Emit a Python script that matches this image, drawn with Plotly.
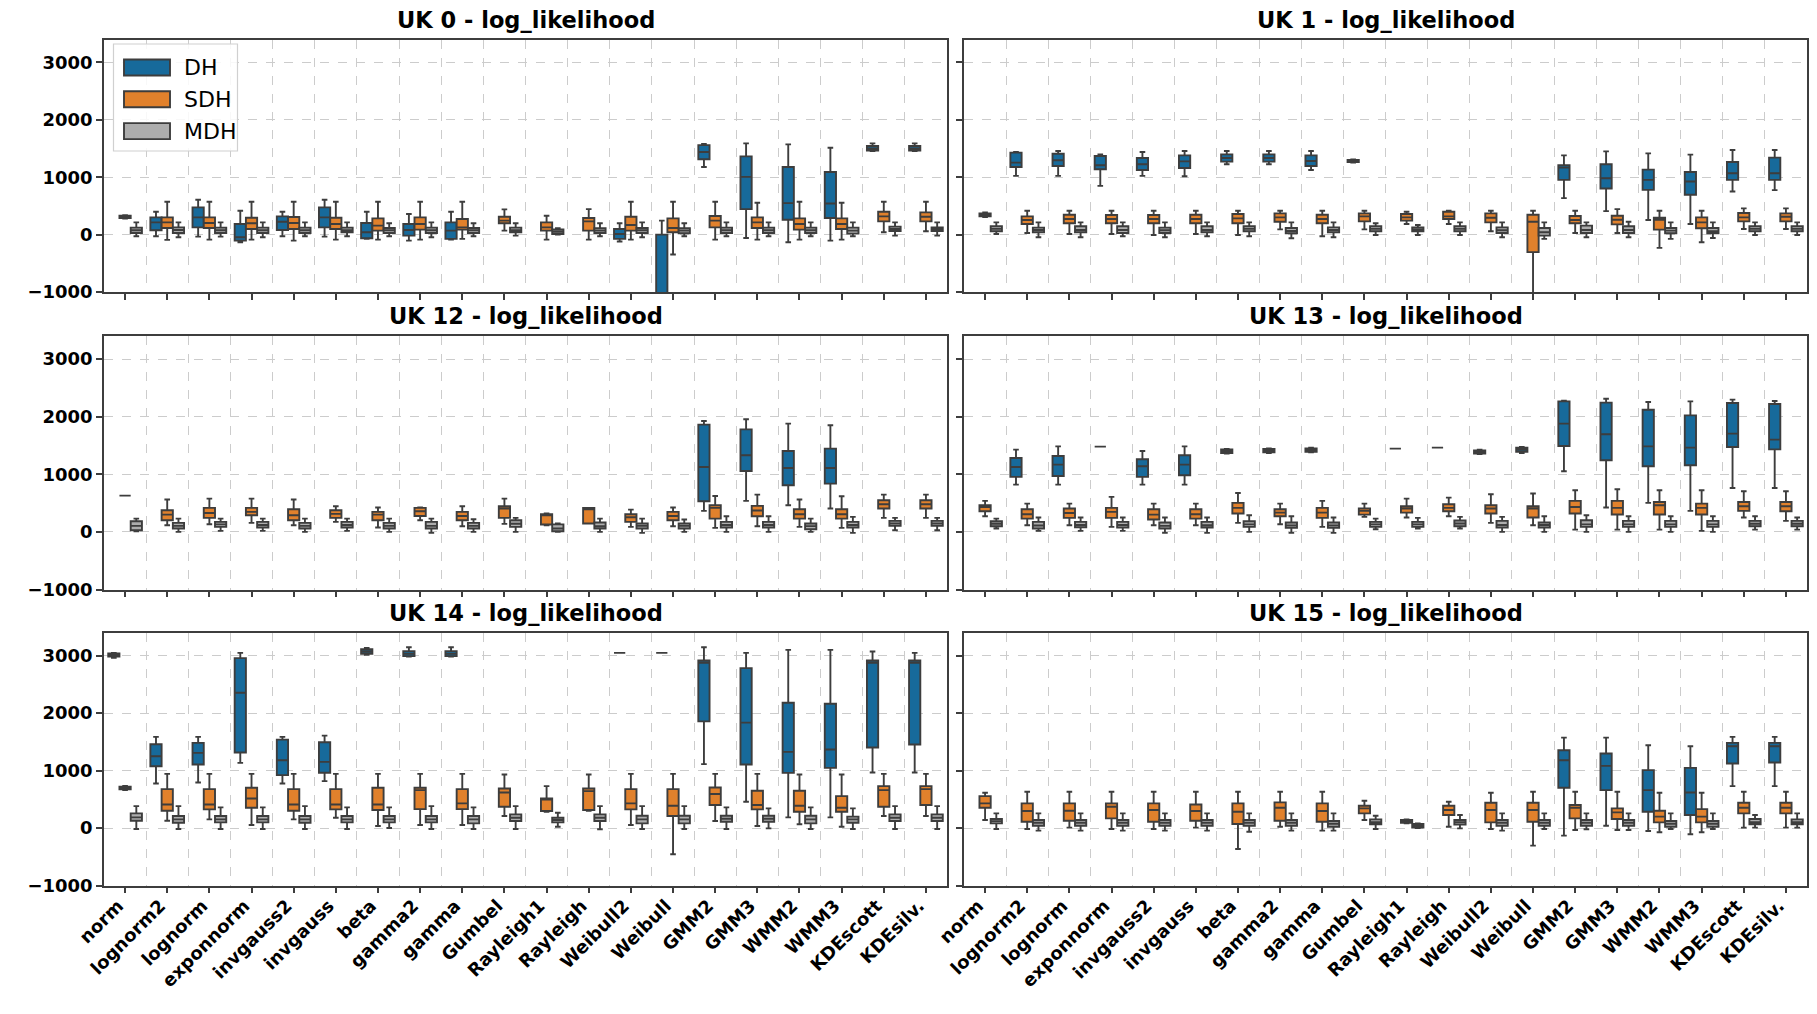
import plotly.graph_objects as go
from plotly.subplots import make_subplots

CATEGORIES = ["norm", "lognorm2", "lognorm", "exponnorm", "invgauss2", "invgauss", "beta",
              "gamma2", "gamma", "Gumbel", "Rayleigh1", "Rayleigh", "Weibull2", "Weibull",
              "GMM2", "GMM3", "WMM2", "WMM3", "KDEscott", "KDEsilv."]
SERIES = ["DH", "SDH", "MDH"]
PANEL_TITLES = ["UK 0 - log_likelihood", "UK 1 - log_likelihood",
                "UK 12 - log_likelihood", "UK 13 - log_likelihood",
                "UK 14 - log_likelihood", "UK 15 - log_likelihood"]
Y_TICKS = [-1000, 0, 1000, 2000, 3000]

# each entry: (lower whisker, Q1, median, Q3, upper whisker); None = no box
UK0_DH = [None, (-29, 75, 214, 300, 399), (-35, 127, 300, 474, 607), (-133, -104, -46, 185, 416),
          (-29, 81, 225, 318, 399), (-35, 127, 300, 474, 607), (-75, -64, 40, 202, 399),
          (-104, -17, 81, 185, 358), (-87, -75, 69, 214, 399), None, None, None,
          (-121, -75, 12, 98, 197), (-4000, -2500, -1500, 0, 243), (1179, 1312, 1439, 1560, 1580),
          (-58, 445, 1006, 1364, 1590), (-133, 260, 549, 1179, 1572), (-104, 289, 543, 1092, 1514),
          (1457, 1465, 1500, 1543, 1590), (1457, 1465, 1500, 1543, 1590)]
UK0_SDH = [(280, 290, 310, 330, 340), (-92, 116, 214, 300, 572), (-87, 116, 202, 300, 572),
           (-87, 98, 197, 295, 572), (-104, 98, 202, 306, 572), (-87, 98, 185, 295, 572),
           (-87, 69, 156, 283, 572), (-87, 87, 185, 300, 572), (-75, 87, 127, 272, 572),
           (69, 197, 243, 312, 439), (-87, 69, 127, 214, 330), (-87, 69, 231, 289, 445),
           (-87, 69, 168, 312, 572), (-347, 40, 116, 283, 572), (-87, 127, 243, 324, 572),
           (-87, 116, 214, 300, 555), (-87, 87, 185, 283, 572), (-87, 98, 185, 283, 555),
           (40, 231, 318, 399, 572), (58, 231, 312, 387, 572)]
UK0_MDH = [(-29, 29, 75, 121, 214), (-46, 29, 81, 127, 214), (-35, 29, 75, 121, 214),
           (-46, 29, 75, 121, 214), (-29, 29, 75, 121, 214), (-29, 40, 75, 121, 214),
           (-29, 29, 75, 116, 197), (-46, 29, 75, 121, 214), (-29, 29, 75, 116, 197),
           (-17, 40, 75, 121, 197), (0, 10, 50, 90, 110), (-29, 29, 69, 110, 197),
           (-46, 29, 75, 116, 214), (-29, 23, 69, 110, 197), (-29, 29, 75, 121, 214),
           (-29, 29, 75, 121, 214), (-29, 29, 75, 121, 214), (-29, 17, 69, 121, 214),
           (-17, 64, 98, 139, 214), (-17, 64, 98, 127, 214)]

UK1_DH = [None, (1023, 1179, 1254, 1428, 1439), (1023, 1196, 1295, 1410, 1457),
          (850, 1139, 1208, 1370, 1399), (1023, 1127, 1225, 1335, 1439),
          (1017, 1162, 1277, 1381, 1457), (1225, 1272, 1335, 1399, 1457),
          (1225, 1272, 1335, 1399, 1457), (1127, 1196, 1283, 1381, 1457),
          (1255, 1265, 1285, 1300, 1310), None, None, None, None,
          (636, 954, 1168, 1208, 1381), (410, 803, 983, 1225, 1451), (254, 780, 954, 1133, 1416),
          (185, 694, 925, 1092, 1393), (751, 954, 1069, 1266, 1474), (775, 954, 1069, 1341, 1474)]
UK1_SDH = [(305, 320, 345, 370, 385), (29, 185, 254, 318, 416), (12, 197, 272, 347, 416),
           (12, 197, 272, 341, 416), (-6, 197, 272, 341, 416), (12, 197, 272, 347, 416),
           (-6, 197, 283, 358, 416), (92, 225, 300, 370, 416), (-29, 197, 272, 347, 416),
           (92, 231, 318, 370, 416), (185, 243, 300, 358, 399), (185, 272, 318, 399, 416),
           (58, 214, 295, 370, 416), (-1500, -306, 225, 347, 416), (29, 197, 254, 324, 416),
           (29, 179, 260, 330, 445), (-231, 87, 260, 295, 416), (-133, 110, 214, 300, 416),
           (98, 231, 300, 376, 457), (98, 231, 312, 370, 457)]
UK1_MDH = [(12, 58, 100, 145, 214), (-46, 40, 81, 121, 214), (-46, 40, 81, 145, 214),
           (-29, 29, 81, 145, 214), (-46, 29, 75, 121, 214), (-29, 40, 81, 145, 214),
           (-29, 58, 100, 145, 214), (-64, 23, 64, 116, 214), (-46, 40, 81, 127, 214),
           (-6, 58, 100, 145, 197), (-6, 58, 92, 127, 168), (-6, 58, 100, 145, 214),
           (-46, 29, 75, 127, 214), (-75, -17, 40, 116, 214), (-46, 29, 81, 156, 214),
           (-46, 29, 81, 145, 225), (-75, 23, 69, 116, 214), (-58, 23, 58, 116, 214),
           (-6, 58, 100, 145, 214), (-6, 58, 100, 145, 214)]

UK12_DH = [None] * 14 + [(364, 532, 1127, 1861, 1925), (538, 1058, 1329, 1780, 1954),
                         (462, 809, 1110, 1405, 1879), (405, 838, 1110, 1445, 1850), None, None]
UK12_SDH = [(630, 630, 630, 630, 630), (116, 202, 300, 376, 561), (133, 243, 329, 416, 578),
            (156, 289, 347, 416, 578), (116, 202, 289, 393, 561), (173, 243, 312, 376, 445),
            (75, 202, 300, 347, 422), (202, 277, 358, 416, 422), (98, 202, 277, 347, 445),
            (139, 243, 405, 445, 578), (116, 127, 289, 306, 318), (145, 145, 393, 416, 416),
            (87, 173, 254, 306, 387), (98, 202, 277, 347, 422), (69, 231, 416, 462, 624),
            (98, 272, 370, 451, 647), (87, 231, 306, 393, 561), (69, 231, 306, 393, 618),
            (243, 405, 480, 549, 647), (243, 405, 480, 549, 647)]
UK12_MDH = [(12, 29, 104, 185, 231), (0, 58, 104, 156, 231), (17, 87, 130, 173, 231),
            (17, 75, 120, 173, 231), (0, 58, 104, 156, 231), (17, 75, 120, 173, 231),
            (0, 58, 104, 156, 231), (-17, 58, 104, 173, 231), (0, 58, 104, 156, 220),
            (0, 87, 140, 202, 243), (0, 10, 60, 130, 145), (0, 58, 98, 162, 231),
            (-17, 58, 104, 145, 231), (0, 58, 104, 145, 214), (0, 75, 120, 173, 272),
            (0, 75, 120, 173, 272), (0, 47, 100, 145, 231), (-17, 75, 120, 173, 260),
            (29, 104, 145, 191, 243), (29, 104, 145, 191, 243)]

UK13_DH = [None, (821, 954, 1127, 1283, 1428), (821, 971, 1168, 1318, 1485),
           (1480, 1480, 1480, 1480, 1480), (821, 954, 1139, 1260, 1405),
           (821, 983, 1168, 1329, 1485), (1360, 1370, 1400, 1430, 1440),
           (1370, 1380, 1410, 1440, 1450), (1380, 1390, 1420, 1450, 1460), None,
           (1445, 1445, 1445, 1445, 1445), (1462, 1462, 1462, 1462, 1462),
           (1350, 1360, 1387, 1415, 1425), (1370, 1390, 1428, 1460, 1475),
           (1052, 1491, 1879, 2266, 2277), (422, 1243, 1694, 2243, 2312),
           (503, 1139, 1485, 2121, 2254), (364, 1156, 1462, 2023, 2266),
           (763, 1474, 1705, 2237, 2295), (763, 1433, 1601, 2220, 2272)]
UK13_SDH = [(272, 358, 433, 462, 538), (116, 231, 306, 393, 491), (116, 243, 329, 405, 491),
            (87, 243, 347, 416, 607), (116, 214, 300, 393, 491), (116, 231, 306, 393, 491),
            (156, 318, 416, 503, 676), (133, 272, 335, 393, 491), (87, 243, 335, 416, 538),
            (260, 300, 364, 405, 491), (249, 335, 405, 445, 578), (272, 358, 416, 480, 595),
            (156, 318, 405, 462, 653), (116, 249, 405, 445, 665), (40, 318, 433, 538, 723),
            (40, 301, 416, 538, 740), (40, 301, 462, 520, 723), (17, 301, 416, 491, 723),
            (249, 364, 445, 520, 705), (191, 358, 445, 520, 705)]
UK13_MDH = [(58, 98, 140, 185, 231), (17, 58, 110, 173, 249), (17, 81, 120, 173, 249),
            (17, 75, 120, 173, 249), (-17, 58, 104, 162, 249), (-17, 75, 115, 173, 249),
            (0, 87, 130, 185, 289), (-17, 69, 110, 162, 272), (-17, 69, 110, 162, 249),
            (47, 87, 130, 173, 231), (58, 87, 130, 173, 243), (58, 98, 145, 197, 260),
            (0, 75, 120, 191, 260), (0, 75, 120, 162, 272), (0, 87, 130, 202, 289),
            (0, 87, 130, 191, 272), (0, 87, 130, 191, 272), (0, 87, 130, 191, 272),
            (40, 98, 140, 191, 272), (40, 98, 140, 191, 249)]

UK14_DH = [(2959, 2980, 3011, 3035, 3046), (775, 1075, 1248, 1457, 1584),
           (792, 1104, 1306, 1480, 1584), (1133, 1312, 2352, 2954, 3046),
           (775, 919, 1179, 1537, 1584), (815, 960, 1150, 1491, 1607),
           (3011, 3030, 3069, 3110, 3133), (2982, 2990, 3029, 3075, 3144),
           (2982, 2990, 3029, 3075, 3144), None, None, None,
           (3046, 3046, 3046, 3046, 3046), (3046, 3046, 3046, 3046, 3046),
           (1110, 1855, 2873, 2913, 3144), (457, 1104, 1832, 2780, 3046),
           (185, 959, 1324, 2179, 3098), (185, 1046, 1364, 2162, 3098),
           (965, 1399, 2873, 2913, 3069), (965, 1451, 2873, 2913, 3046)]
UK14_SDH = [(660, 675, 699, 720, 730), (127, 301, 410, 676, 942), (150, 324, 410, 676, 942),
            (52, 353, 514, 699, 942), (150, 301, 410, 676, 942), (179, 324, 410, 676, 942),
            (35, 312, 410, 699, 942), (52, 329, 659, 699, 942), (52, 329, 428, 676, 942),
            (208, 370, 618, 688, 931), (283, 295, 497, 514, 728), (301, 312, 642, 688, 931),
            (52, 324, 428, 676, 942), (-457, 208, 387, 676, 942), (121, 399, 590, 705, 942),
            (35, 324, 399, 647, 942), (64, 283, 387, 647, 931), (23, 283, 353, 555, 931),
            (208, 370, 659, 728, 942), (208, 399, 676, 728, 942)]
UK14_MDH = [(-17, 127, 185, 254, 381), (-17, 92, 150, 208, 381), (-17, 98, 150, 208, 358),
            (-17, 98, 150, 208, 358), (-17, 92, 150, 208, 381), (-17, 98, 150, 208, 358),
            (0, 98, 150, 208, 358), (-17, 98, 150, 208, 381), (-17, 81, 150, 208, 358),
            (-17, 121, 179, 237, 381), (23, 98, 140, 179, 266), (-23, 121, 179, 237, 381),
            (-17, 81, 150, 214, 381), (-17, 81, 150, 214, 381), (-17, 110, 160, 214, 358),
            (-6, 110, 160, 214, 341), (-17, 81, 150, 214, 358), (-17, 92, 150, 197, 341),
            (-17, 121, 179, 237, 381), (-17, 121, 179, 237, 381)]

UK15_DH = [None] * 14 + [(-133, 699, 1179, 1353, 1572), (40, 659, 1081, 1295, 1572),
                         (-52, 283, 659, 1006, 1439), (-110, 225, 618, 1046, 1422),
                         (728, 1121, 1422, 1480, 1584), (728, 1139, 1422, 1480, 1584)]
UK15_SDH = [(139, 353, 428, 555, 613), (-17, 110, 295, 428, 630), (6, 127, 301, 428, 630),
            (-17, 168, 370, 428, 630), (-17, 110, 312, 428, 630), (6, 127, 295, 410, 630),
            (-364, 69, 283, 428, 630), (23, 127, 353, 445, 630), (-46, 110, 295, 428, 630),
            (139, 254, 341, 387, 474), (80, 90, 116, 140, 150), (23, 225, 312, 387, 457),
            (-17, 98, 312, 439, 613), (-306, 110, 312, 439, 630), (-35, 168, 353, 399, 630),
            (-35, 156, 272, 341, 630), (-75, 98, 197, 301, 613), (-75, 98, 197, 329, 613),
            (6, 254, 353, 439, 630), (6, 254, 353, 439, 630)]
UK15_MDH = [(-17, 81, 120, 156, 254), (-46, 40, 90, 139, 254), (-46, 40, 90, 139, 254),
            (-46, 40, 90, 139, 254), (-46, 40, 90, 139, 254), (-46, 40, 90, 139, 254),
            (-64, 40, 90, 139, 254), (-46, 40, 90, 139, 254), (-46, 23, 75, 121, 254),
            (-17, 64, 100, 150, 214), (0, 10, 40, 70, 80), (-6, 58, 100, 139, 225),
            (-46, 40, 90, 139, 254), (-17, 40, 90, 139, 254), (-23, 40, 90, 139, 254),
            (-35, 40, 90, 139, 254), (-17, 23, 75, 121, 254), (-17, 23, 75, 121, 254),
            (6, 64, 100, 156, 225), (6, 64, 100, 150, 254)]

PANELS = [(UK0_DH, UK0_SDH, UK0_MDH), (UK1_DH, UK1_SDH, UK1_MDH),
          (UK12_DH, UK12_SDH, UK12_MDH), (UK13_DH, UK13_SDH, UK13_MDH),
          (UK14_DH, UK14_SDH, UK14_MDH), (UK15_DH, UK15_SDH, UK15_MDH)]

COLORS = ["#176a9b", "#e1812c", "#adadad"]
EDGE = "#3d3d3d"
GRID = "#cccccc"
FONT = "DejaVu Sans"
GROUP_WIDTH = 0.8
BOX_W = GROUP_WIDTH / len(SERIES)

W, H = 1817, 1014
COL_DOM = [(104 / W, 947 / W), (964 / W, 1807 / W)]
ROW_DOM = [(1 - 292 / H, 1 - 39.5 / H), (1 - 589.5 / H, 1 - 336 / H), (1 - 885.5 / H, 1 - 632.5 / H)]

fig = make_subplots(rows=3, cols=2)

for p, data in enumerate(PANELS):
    r, c = p // 2 + 1, p % 2 + 1
    for s, series in enumerate(data):
        idx = [i for i, v in enumerate(series) if v is not None]
        vals = [series[i] for i in idx]
        offset = (s - (len(SERIES) - 1) / 2) * BOX_W
        fig.add_trace(go.Box(
            x=[i + offset for i in idx], width=BOX_W,
            lowerfence=[v[0] for v in vals], q1=[v[1] for v in vals],
            median=[v[2] for v in vals], q3=[v[3] for v in vals],
            upperfence=[v[4] for v in vals],
            name=SERIES[s], showlegend=False,
            fillcolor=COLORS[s], line=dict(color=EDGE, width=1.9),
            marker=dict(color=COLORS[s]), boxpoints=False, whiskerwidth=0.5,
            hoverinfo="skip"), row=r, col=c)

for p in range(6):
    r, c = p // 2, p % 2
    n = "" if p == 0 else str(p + 1)
    fig.layout["xaxis" + n].update(
        domain=COL_DOM[c], type="linear", range=[-0.5, 19.5], automargin=False,
        tickmode="array", tickvals=list(range(len(CATEGORIES))), ticktext=CATEGORIES,
        showticklabels=(r == 2), tickangle=-45, ticklabelstandoff=-5, ticklabelshift=-7,
        tickfont=dict(family=FONT, size=18, color="black", weight="bold"),
        ticks="outside", ticklen=6, tickwidth=1.5, tickcolor=EDGE,
        showgrid=False, zeroline=False,
        showline=True, mirror=True, linecolor=EDGE, linewidth=1.5,
        minor=dict(tickmode="array", tickvals=[i + 0.5 for i in range(len(CATEGORIES) - 1)],
                   showgrid=True, gridcolor=GRID, griddash="dash", gridwidth=1.3, ticks=""))
    fig.layout["yaxis" + n].update(
        domain=ROW_DOM[r], range=[-1000, 3400], automargin=False,
        tickmode="array", tickvals=Y_TICKS, showticklabels=(c == 0),
        tickfont=dict(family=FONT, size=18, color="black", weight="bold"),
        ticks="outside", ticklen=6, tickwidth=1.5, tickcolor=EDGE,
        showgrid=True, gridcolor=GRID, griddash="dash", gridwidth=1.3, zeroline=False,
        showline=True, mirror=True, linecolor=EDGE, linewidth=1.5)
    fig.add_annotation(
        text=PANEL_TITLES[p], xref="paper", yref="paper",
        x=(COL_DOM[c][0] + COL_DOM[c][1]) / 2, y=ROW_DOM[r][1],
        xanchor="center", yanchor="middle", yshift=20, showarrow=False,
        font=dict(family=FONT, size=22.5, color="black", weight="bold"))

# legend drawn as a framed box with patches (matplotlib style)
LEG_X0, LEG_Y0, LEG_X1, LEG_Y1 = 113.5, 44, 237.5, 151
fig.add_shape(type="rect", xref="paper", yref="paper",
              x0=LEG_X0 / W, x1=LEG_X1 / W, y0=1 - LEG_Y1 / H, y1=1 - LEG_Y0 / H,
              line=dict(color="#d0d0d0", width=1.2), fillcolor="rgba(255,255,255,0.85)")
for s, name in enumerate(SERIES):
    cy = 67.5 + s * 31.8
    fig.add_shape(type="rect", xref="paper", yref="paper",
                  x0=124 / W, x1=170 / W, y0=1 - (cy + 8) / H, y1=1 - (cy - 8) / H,
                  line=dict(color=EDGE, width=1.9), fillcolor=COLORS[s])
    fig.add_annotation(text=name, xref="paper", yref="paper", x=182 / W, y=1 - cy / H,
                       xanchor="left", yanchor="middle", showarrow=False,
                       font=dict(family=FONT, size=22, color="black"))

fig.update_layout(
    width=W, height=H, margin=dict(l=0, r=0, t=0, b=0),
    paper_bgcolor="white", plot_bgcolor="white", boxmode="overlay", showlegend=False,
)

fig.write_html("out.html", config={"displayModeBar": False},
               post_script="document.body.style.margin='0';")
